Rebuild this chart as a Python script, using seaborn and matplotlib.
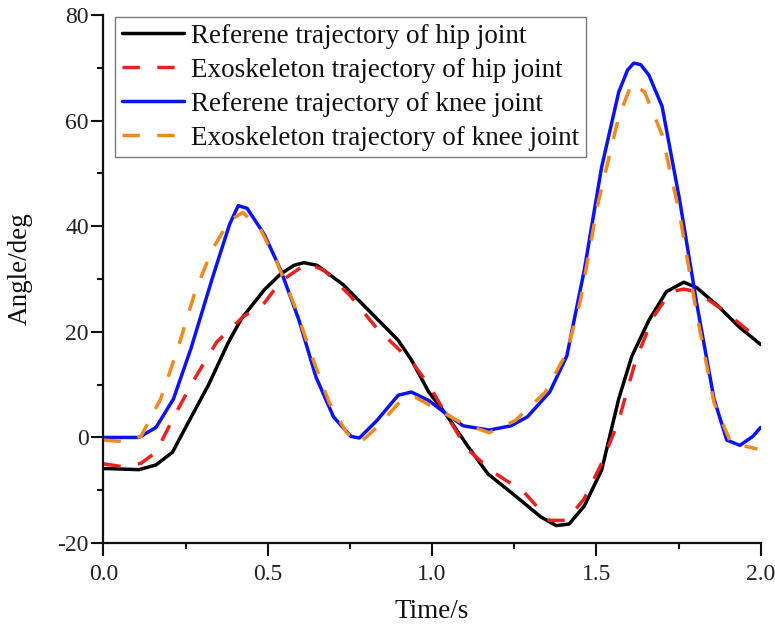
import matplotlib
matplotlib.use("Agg")
import matplotlib.pyplot as plt
import seaborn as sns
import pandas as pd
from matplotlib.ticker import MultipleLocator

hip_ref_t = [0.0, 0.016, 0.108, 0.16, 0.21, 0.25, 0.32, 0.38, 0.42, 0.49, 0.54, 0.58, 0.61, 0.65, 0.73, 0.805,
             0.897, 0.937, 0.99, 1.04, 1.107, 1.17, 1.25, 1.33, 1.378, 1.417, 1.463, 1.516, 1.568,
             1.608, 1.66, 1.713, 1.766, 1.805, 1.87, 1.937, 2.0]
hip_ref = [-5.9, -5.9, -6.1, -5.2, -2.8, 1.9, 10.0, 18.0, 22.5, 28.0, 31.0, 32.6, 33.1, 32.6, 28.9, 24.2,
           18.4, 14.7, 8.6, 4.6, -1.5, -6.9, -10.9, -15.0, -16.7, -16.4, -13.0, -6.2, 7.3,
           15.4, 22.2, 27.6, 29.4, 28.4, 24.9, 20.8, 17.6]

hip_exo_t = [0.0, 0.055, 0.114, 0.16, 0.22, 0.28, 0.345, 0.424, 0.49, 0.54, 0.62, 0.673, 0.75, 0.83,
             0.937, 0.99, 1.04, 1.107, 1.187, 1.279, 1.357, 1.41, 1.463, 1.516, 1.568, 1.62, 1.673,
             1.726, 1.766, 1.805, 1.884, 1.99]
hip_exo = [-5.0, -5.5, -4.9, -2.8, 4.6, 11.4, 18.1, 22.8, 25.5, 29.6, 33.0, 31.6, 26.9, 20.8,
           14.4, 10.0, 4.6, -2.2, -6.6, -10.3, -15.7, -15.7, -11.6, -4.9, 3.2, 14.7, 22.8,
           27.6, 28.1, 27.6, 24.2, 18.8]

knee_ref_t = [0.0, 0.108, 0.16, 0.213, 0.266, 0.332, 0.384, 0.41, 0.437, 0.49, 0.54, 0.595, 0.647,
              0.7, 0.753, 0.779, 0.832, 0.897, 0.937, 0.99, 1.04, 1.095, 1.174, 1.24, 1.29, 1.358,
              1.41, 1.463, 1.516, 1.568, 1.595, 1.614, 1.635, 1.66, 1.7, 1.753, 1.805, 1.858, 1.897, 1.937,
              1.976, 2.0]
knee_ref = [0.0, 0.0, 1.9, 7.3, 16.8, 30.3, 40.4, 43.9, 43.4, 38.4, 31.6, 22.2, 11.4,
            3.9, 0.2, -0.1, 3.2, 8.0, 8.6, 7.0, 4.6, 2.2, 1.4, 2.2, 3.9, 8.6,
            15.4, 31.6, 51.2, 65.4, 69.6, 70.9, 70.6, 68.6, 62.7, 45.1, 25.5, 7.3, -0.5, -1.5,
            0.2, 1.9]

knee_exo_t = [0.0, 0.068, 0.114, 0.174, 0.226, 0.279, 0.332, 0.384, 0.424, 0.476, 0.529, 0.582,
              0.634, 0.687, 0.74, 0.779, 0.832, 0.91, 0.95, 1.016, 1.095, 1.174, 1.253, 1.345,
              1.41, 1.45, 1.503, 1.568, 1.608, 1.647, 1.7, 1.753, 1.805, 1.858, 1.91, 1.963, 1.99]
knee_exo = [-0.5, -0.8, 0.2, 7.3, 16.8, 27.6, 35.7, 41.1, 42.6, 39.7, 33.0, 24.9,
            15.4, 6.6, 0.9, -1.1, 1.9, 7.3, 7.6, 5.3, 2.6, 0.9, 3.2, 8.6,
            16.1, 25.5, 43.8, 60.7, 67.1, 65.4, 57.3, 42.4, 23.5, 6.6, -1.1, -1.8, -2.2]

labels = ["Referene trajectory of hip joint", "Exoskeleton trajectory of hip joint",
          "Referene trajectory of knee joint", "Exoskeleton trajectory of knee joint"]
x_ticks = [0.0, 0.5, 1.0, 1.5, 2.0]
y_ticks = [-20, 0, 20, 40, 60, 80]

sns.set_theme(style="ticks")
plt.rcParams['font.family'] = ['Liberation Serif', 'DejaVu Serif']

fig = plt.figure(figsize=(7.75, 6.26), dpi=100)
ax = fig.add_axes([0.1335, 0.1325, 0.848, 0.8435])

series = [
    (hip_ref_t, hip_ref, labels[0], "#000000", "-"),
    (hip_exo_t, hip_exo, labels[1], "#e8221e", (0, (5, 5))),
    (knee_ref_t, knee_ref, labels[2], "#0a14f0", "-"),
    (knee_exo_t, knee_exo, labels[3], "#f0891e", (0, (5, 5))),
]
for t, v, lab, c, ls in series:
    df = pd.DataFrame({"t": t, "v": v})
    sns.lineplot(data=df, x="t", y="v", ax=ax, color=c, linewidth=2.5, label=lab,
                 sort=False, estimator=None)
    ax.lines[-1].set_linestyle(ls)

ax.set_xlim(0, 2.0)
ax.set_ylim(-20, 80)
ax.set_xticks(x_ticks)
ax.set_xticklabels([f"{x:.1f}" for x in x_ticks])
ax.set_yticks(y_ticks)
ax.set_yticklabels([str(y) for y in y_ticks])
ax.xaxis.set_minor_locator(MultipleLocator(0.25))
ax.yaxis.set_minor_locator(MultipleLocator(10))
ax.tick_params(which="major", direction="out", length=9, width=1.5, labelsize=17, colors="#111111",
               labelcolor="#222222")
ax.tick_params(which="minor", direction="out", length=4.5, width=1.5, colors="#111111")
ax.tick_params(axis="y", which="major", pad=1.5)
ax.tick_params(axis="x", which="major", pad=6)
for s in ["top", "right"]:
    ax.spines[s].set_visible(False)
for s in ["left", "bottom"]:
    ax.spines[s].set_linewidth(1.6)
    ax.spines[s].set_color("#111111")
ax.set_xlabel("Time/s", fontsize=19.5, color="#111111")
ax.set_ylabel("Angle/deg", fontsize=19.5, color="#111111")
ax.xaxis.set_label_coords((432 - 104) / 656, (545 - 601) / 530)
ax.yaxis.set_label_coords((33 - 104) / 656, (545 - 270) / 530)

leg = ax.legend(loc="upper left", bbox_to_anchor=(0.018, 0.996), fontsize=19.5, frameon=True,
                fancybox=False, edgecolor="#555555", handlelength=2.3, handletextpad=0.25,
                borderpad=0.25, labelspacing=0.33, borderaxespad=0)
leg.get_frame().set_linewidth(1.0)
for txt in leg.get_texts():
    txt.set_color("#111111")

fig.savefig("out.png", dpi=100)
